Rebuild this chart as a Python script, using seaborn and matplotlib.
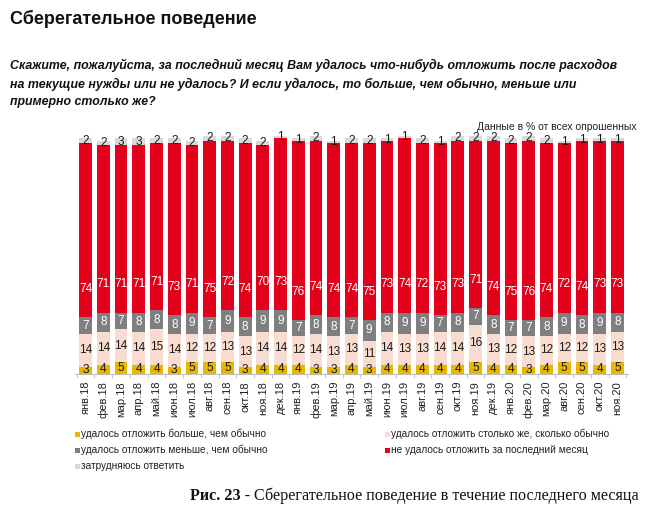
import matplotlib
matplotlib.use("Agg")
import matplotlib.pyplot as plt
from matplotlib.patches import Rectangle
import seaborn as sns
import numpy as np

months = ["янв.18", "фев.18", "мар.18", "апр.18", "май.18", "июн.18", "июл.18", "авг.18",
          "сен.18", "окт.18", "ноя.18", "дек.18", "янв.19", "фев.19", "мар.19", "апр.19",
          "май.19", "июн.19", "июл.19", "авг.19", "сен.19", "окт.19", "ноя.19", "дек.19",
          "янв.20", "фев.20", "мар.20", "авг.20", "сен.20", "окт.20", "ноя.20"]
more = [3, 4, 5, 4, 4, 3, 5, 5, 5, 3, 4, 4, 4, 3, 3, 4, 3, 4, 4, 4, 4, 4, 5, 4, 4, 3, 4, 5, 5, 4, 5]
same = [14, 14, 14, 14, 15, 14, 12, 12, 13, 13, 14, 14, 12, 14, 13, 13, 11, 14, 13, 13, 14, 14, 16, 13,
        12, 13, 12, 12, 12, 13, 13]
less = [7, 8, 7, 8, 8, 8, 9, 7, 9, 8, 9, 9, 7, 8, 8, 7, 9, 8, 9, 9, 7, 8, 7, 8, 7, 7, 8, 9, 8, 9, 8]
failed = [74, 71, 71, 71, 71, 73, 71, 75, 72, 74, 70, 73, 76, 74, 74, 74, 75, 73, 74, 72, 73, 73, 71, 74,
          75, 76, 74, 72, 74, 73, 73]
hard = [2, 2, 3, 3, 2, 2, 2, 2, 2, 2, 2, 1, 1, 2, 1, 2, 2, 1, 1, 2, 1, 2, 2, 2, 2, 2, 2, 1, 1, 1, 1]

series_names = ["удалось отложить больше, чем обычно",
                "удалось отложить столько же, сколько обычно",
                "удалось отложить меньше, чем обычно",
                "не удалось отложить за последний месяц",
                "затрудняюсь ответить"]

sns.set_theme(style="white")
plt.rcParams["font.family"] = ["Liberation Sans", "DejaVu Sans"]

colors = ["#E6B800", "#F9DCD0", "#7F7F7F", "#E2001A", "#D9D9D9"]
text_colors = ["#1a1a1a", "#1a1a1a", "white", "white", "#1a1a1a"]

fig = plt.figure(figsize=(6.63, 5.2), dpi=100)
ax = fig.add_axes([75 / 663, 1 - 374 / 520, (628 - 75) / 663, (374 - 136) / 520])

data = [more, same, less, failed, hard]
stack = np.cumsum(np.array(data), axis=0)

# draw cumulative totals from tallest to shortest (layered stacked bars)
for i in range(len(data) - 1, -1, -1):
    sns.barplot(x=months, y=stack[i], order=months, color=colors[i], saturation=1,
                width=0.72, ax=ax, linewidth=0)

for j in range(len(months)):
    for i in range(len(data)):
        bottom = stack[i][j] - data[i][j]
        if i == 3:
            yy = bottom + 12
        else:
            yy = bottom + data[i][j] / 2
        ax.text(j, yy, str(data[i][j]), ha="center", va="center", fontsize=8.5,
                color=text_colors[i])

ax.set_xlim(-0.6, len(months) - 0.4)
ax.set_ylim(0, 101)
ax.set_yticks([])
ax.set_ylabel("")
ax.set_xlabel("")
for s in ["left", "right", "top"]:
    ax.spines[s].set_visible(False)
ax.spines["bottom"].set_color("#BFBFBF")
ax.spines["bottom"].set_linewidth(0.8)
ax.tick_params(axis="x", length=0, pad=5, labelsize=8, labelcolor="#222222")
ax.set_xticks(range(len(months)))
ax.set_xticklabels(months, rotation=90)
ax.set_xticks(np.arange(-0.5, len(months), 1), minor=True)
ax.tick_params(axis="x", which="minor", length=3, color="#BFBFBF", width=0.6, bottom=True)

# titles
fig.text(10 / 663, 1 - 19 / 520, "Сберегательное поведение", fontsize=13, fontweight="bold",
         va="center", ha="left", color="#111111")
sub = ("Скажите, пожалуйста, за последний месяц Вам удалось что-нибудь отложить после расходов\n"
       "на текущие нужды или не удалось? И если удалось, то больше, чем обычно, меньше или\n"
       "примерно столько же?")
fig.text(10 / 663, 1 - 59 / 520, sub, fontsize=8.95, fontweight="bold", fontstyle="italic",
         va="top", ha="left", linespacing=1.55, color="#111111")
fig.text(637 / 663, 1 - 127 / 520, "Данные в % от всех опрошенных", fontsize=7.5,
         ha="right", va="center", color="#222222")

# legend
leg_pos = [(75, 434), (385, 434), (75, 450), (385, 450), (75, 466)]
leg_order = [0, 1, 2, 3, 4]
for k, (px, py) in zip(leg_order, leg_pos):
    fig.add_artist(Rectangle((px / 663, 1 - (py + 3) / 520), 5 / 663, 5 / 520,
                             transform=fig.transFigure, color=colors[k], lw=0))
    fig.text((px + 6) / 663, 1 - py / 520, series_names[k], fontsize=7.3,
             ha="left", va="center", color="#222222")

# caption
fig.canvas.draw()
cap_font = ["Liberation Serif", "DejaVu Serif"]
t1 = fig.text(190 / 663, 1 - 496 / 520, "Рис. 23 - ", fontsize=11.6, fontweight="bold",
              family=cap_font, ha="left", va="center", color="#111111")
fig.canvas.draw()
bb = t1.get_window_extent()
x2 = bb.x1 / fig.bbox.width
fig.text(x2, 1 - 496 / 520, "Сберегательное поведение в течение последнего месяца",
         fontsize=11.6, family=cap_font, ha="left", va="center", color="#111111")

fig.savefig("out.png", dpi=100)
